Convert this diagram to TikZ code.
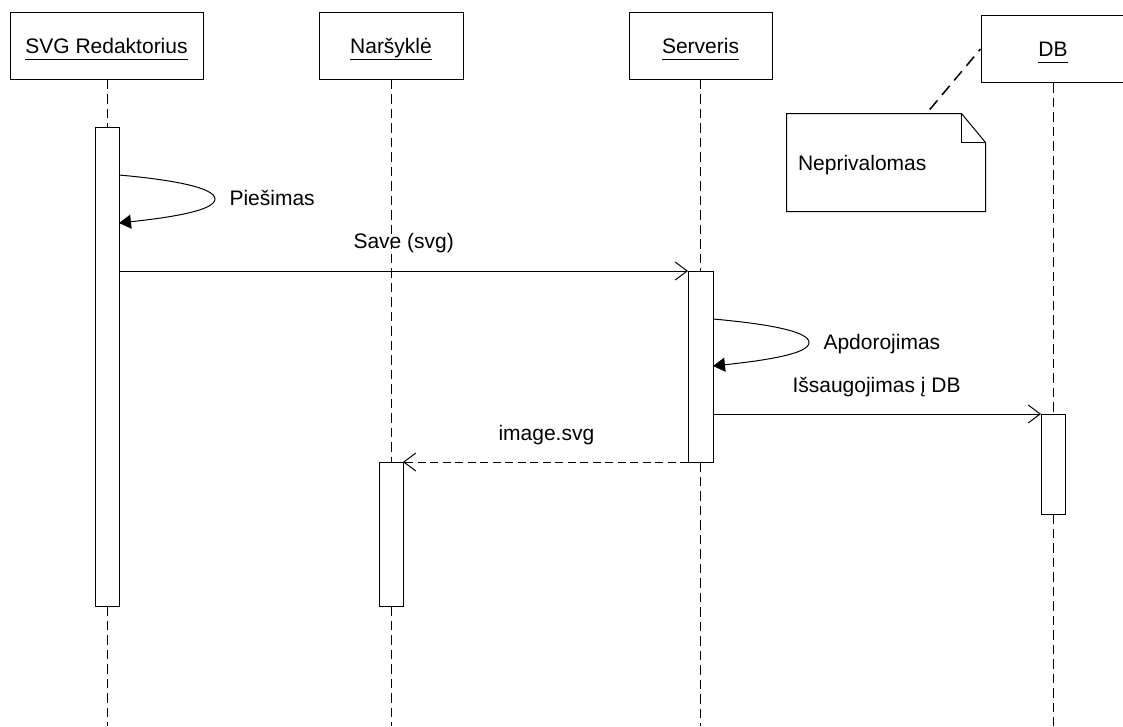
\documentclass[tikz,border=0pt]{standalone}
\usepackage{fontspec}
\setmainfont{Liberation Sans}
\usetikzlibrary{arrows.meta,calc}
\newcommand{\myul}[1]{\leavevmode\setbox0\hbox{#1}\rlap{\rule[-6.5pt]{\wd0}{1pt}}\box0}
\begin{document}
\begin{tikzpicture}[x=1pt,y=-1pt,line width=1pt,
  every node/.style={font=\fontsize{21pt}{25pt}\selectfont},
  head/.style={draw,fill=white,minimum height=67pt,inner sep=0pt,text height=15pt,text depth=0pt},
  actbar/.style={draw,fill=white,minimum width=24pt,inner sep=0pt,outer sep=0pt},
  life/.style={dash pattern=on 9.5pt off 5pt},
  msg/.style={-{Straight Barb[length=12pt,width=18pt]}},
  retmsg/.style={msg,dash pattern=on 8pt off 4.5pt},
  selfmsg/.style={-{Triangle[length=12pt,width=14pt]}},
  lbl/.style={anchor=base west,inner sep=0pt},
  notelink/.style={line width=1.5pt,dash pattern=on 12pt off 7pt},
]
\useasboundingbox (0,0) rectangle (1123,726);

% heads
\node[head,minimum width=193pt] (h1) at (106.5,45.5) {\myul{SVG Redaktorius}};
\node[head,minimum width=144pt] (h2) at (391,45.5) {\myul{Naršyklė}};
\node[head,minimum width=143pt] (h3) at (700.5,45.5) {\myul{Serveris}};
\node[head,minimum width=144pt] (h4) at (1053,49) {\myul{DB}};

% lifeline ends
\coordinate (e1) at (107,726);
\coordinate (e2) at (391,726);
\coordinate (e3) at (700.5,726);
\coordinate (e4) at (1053,726);

% activation bars (positions)
\path (107,366.5) coordinate (pb1) (391,534) coordinate (pb2)
      (700.5,366.5) coordinate (pb3) (1053,464) coordinate (pb4);

% lifelines
\draw[life] (h1.south -| pb1) -- ($(pb1)+(0,-239.5)$);
\draw[life] ($(pb1)+(0,239.5)$) -- (e1);
\draw[life] (h2.south -| pb2) -- ($(pb2)+(0,-72)$);
\draw[life] ($(pb2)+(0,72)$) -- (e2);
\draw[life] (h3.south -| pb3) -- ($(pb3)+(0,-95.5)$);
\draw[life] ($(pb3)+(0,95.5)$) -- (e3);
\draw[life] (h4.south -| pb4) -- ($(pb4)+(0,-50)$);
\draw[life] ($(pb4)+(0,50)$) -- (e4);

\node[actbar,minimum height=479pt] (b1) at (pb1) {};
\node[actbar,minimum height=144pt] (b2) at (pb2) {};
\node[actbar,minimum width=25pt,minimum height=191pt] (b3) at (pb3) {};
\node[actbar,minimum height=100pt] (b4) at (pb4) {};

% self messages
\draw[selfmsg] (b1.east |- 0,175) .. controls +(56,5) and +(0,-11) .. +(96,24)
   .. controls +(0,11) and +(56,-6) .. (b1.east |- 0,223);
\node[lbl] (l1) at (229,205) {Piešimas};

\draw[selfmsg] (b3.east |- 0,319) .. controls +(56,5) and +(0,-11) .. +(96,23.5)
   .. controls +(0,11) and +(56,-6) .. (b3.east |- 0,366);
\node[lbl] (l3) at (823,349) {Apdorojimas};

% messages
\draw[msg] (b1.east |- b3.north) -- (b3.north west);
\node[lbl] (l2) at (353,248) {Save (svg)};

\draw[msg] (b3.east |- b4.north) -- (b4.north west);
\node[lbl] (l4) at (792,392) {Išsaugojimas į DB};

\draw[retmsg] (b3.south west) -- (b3.south west -| b2.east);
\node[lbl] (l5) at (498,440) {image.svg};

% note
\node[inner sep=0pt,minimum width=198pt,minimum height=97pt,text width=176pt,align=left,text height=15pt,text depth=0pt] (note) at (886,162.5) {Neprivalomas};
\draw ($(note.north east)+(-24,0)$) -- (note.north west) -- (note.south west) -- (note.south east) -- ($(note.north east)+(0,29)$) -- cycle;
\draw ($(note.north east)+(-24,0)$) -- ($(note.north east)+(-24,29)$) -- ($(note.north east)+(0,29)$);
\draw[notelink] ($(note.north west)!0.72!(note.north east)+(0,-4)$) -- (h4.west);
\end{tikzpicture}
\end{document}
